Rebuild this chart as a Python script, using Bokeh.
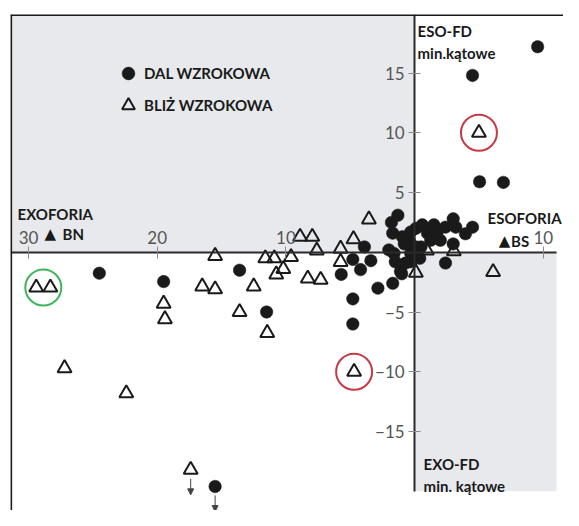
from bokeh.plotting import figure
from bokeh.models import (Range1d, FixedTicker, BoxAnnotation, Span, Label, Legend,
                          LegendItem, Arrow, NormalHead, ColumnDataSource)
from bokeh.embed import file_html
from bokeh.resources import INLINE

# ---- data (x < 0: exophoria, x > 0: esophoria; y: fixation disparity, min. kątowe) ----
DAL_X = [9.56, 4.5, 5.05, 6.9,
         0.1, 0.6, 1.5, 1.0, 1.25, 2.0, 2.4, 3.0, 3.2, 3.95, 4.5, 3.0, 2.4, 0.5, 1.75,
         -1.3, -1.8, -1.7, -1.6, -1.5, -1.1, -0.8, -0.4, -0.3, -0.3, 0.1, -0.7, -1.0,
         -2.0, -0.95, -0.3, 0.4,
         -3.9, -4.8, -3.4, -4.2, -5.7, -1.7, -2.85, -4.8, -4.8,
         -24.5, -19.5, -13.6, -11.5, -15.5]
DAL_Y = [17.2, 14.8, 5.9, 5.85,
         2.0, 2.3, 2.3, 1.6, 1.0, 1.0, 2.1, 2.8, 2.1, 1.55, 2.1, 0.7, -0.9, 0.45, 1.7,
         3.1, 2.5, 1.6, -0.1, -0.8, -1.6, 0.7, 1.0, -0.1, -0.8, 0.45, -0.9, -1.8,
         0.2, 1.3, 1.7, -0.5,
         0.45, -0.6, -0.7, -1.45, -1.85, -2.6, -3.0, -3.9, -6.0,
         -1.75, -2.45, -1.5, -5.0, -19.6]

BLIZ_X = [5.0, -4.7, -29.4, -28.3, -27.2, -22.4, -19.5, -19.4, -16.5, -15.5,
          -12.5, -13.6, -11.45, -17.4, -15.5, -11.6, -10.9, -9.6, -10.2, -10.75,
          -8.9, -7.95, -7.6, -5.75, -5.75, -4.75, -3.55, -8.3, -7.3,
          0.95, 3.05, 0.1, 6.1]
BLIZ_Y = [10.0, -10.0, -2.95, -2.95, -9.7, -11.8, -4.3, -5.6, -2.85, -3.1,
          -2.85, -5.0, -6.75, -18.2, -0.3, -0.5, -0.5, -0.4, -1.4, -1.85,
          1.3, 1.3, 0.15, 0.3, -0.8, 1.1, 2.75, -2.2, -2.3,
          0.15, 0.1, -1.7, -1.65]

# highlighted points
RED_X = [5.0, -4.7]
RED_Y = [10.0, -10.0]
GREEN_X = [-28.85]
GREEN_Y = [-2.95]

# points beyond the scale (arrows downwards)
ARROW_X = [-17.4, -15.5]
ARROW_Y = [-18.2, -19.6]

X_TICKS = [-30, -20, -10, 10]
X_TICK_LABELS = ["30", "20", "10", "10"]
Y_TICKS = [-15, -10, -5, 5, 10, 15]
Y_TICK_LABELS = ["\u221215", "\u221210", "\u22125", "5", "10", "15"]

X_MIN, X_MAX = -31.4, 11.57
Y_MIN, Y_MAX = -21.61, 19.9
X_AXIS_END = 11.03
Y_AXIS_START = -20.0

GRAY = "#e7e9ec"
INK = "#1a1a1a"

p = figure(width=563, height=510, x_range=Range1d(X_MIN, X_MAX), y_range=Range1d(Y_MIN, Y_MAX),
           output_backend="svg", toolbar_location=None, x_axis_location="above",
           min_border_left=10, min_border_top=14, min_border_right=0, min_border_bottom=0,
           outline_line_color=None, background_fill_color="white", border_fill_color="white")
p.grid.visible = False

# shaded quadrants
p.add_layout(BoxAnnotation(left=X_MIN, right=0, bottom=0, top=Y_MAX, fill_color=GRAY,
                           fill_alpha=1, line_color=None, level="underlay"))
p.add_layout(BoxAnnotation(left=0, right=X_AXIS_END, bottom=Y_AXIS_START, top=0, fill_color=GRAY,
                           fill_alpha=1, line_color=None, level="underlay"))

# frame (top and left only)
p.add_layout(Span(location=Y_MAX - 0.04, dimension="width", line_color=INK, line_width=2))
p.add_layout(Span(location=X_MIN + 0.05, dimension="height", line_color=INK, line_width=2))

# axes crossing at origin
xa = p.xaxis[0]
xa.fixed_location = 0
xa.bounds = (X_MIN, X_AXIS_END)
xa.ticker = FixedTicker(ticks=X_TICKS)
xa.major_label_overrides = {t: l for t, l in zip(X_TICKS, X_TICK_LABELS)}
ya = p.yaxis[0]
ya.fixed_location = 0
ya.bounds = (Y_AXIS_START, Y_MAX)
ya.ticker = FixedTicker(ticks=Y_TICKS)
ya.major_label_overrides = {t: l for t, l in zip(Y_TICKS, Y_TICK_LABELS)}
for ax in (xa, ya):
    ax.axis_line_color = "#2a2a2a"
    ax.axis_line_width = 2
    ax.major_tick_line_color = "#8a8a8a"
    ax.major_tick_line_width = 1
    ax.major_tick_in = 6
    ax.major_tick_out = 6
    ax.minor_tick_line_color = None
    ax.major_label_text_font = "Lato"
    ax.major_label_text_font_size = "17px"
    ax.major_label_text_color = "#555555"
xa.major_label_standoff = 2
ya.major_label_standoff = 4

# data
circ = p.scatter(DAL_X, DAL_Y, marker="circle", size=12.5, fill_color=INK, line_color=INK, line_width=0.5)
tri = p.scatter(BLIZ_X, BLIZ_Y, marker="triangle", size=14, fill_color=None, line_color=INK, line_width=2)

# highlight rings
p.scatter(RED_X, RED_Y, marker="circle", size=36, fill_color=None, line_color="#c73a45", line_width=2)
p.scatter(GREEN_X, GREEN_Y, marker="circle", size=36, fill_color=None, line_color="#3fb45c", line_width=2)

# arrows for off-scale points
asrc = ColumnDataSource(dict(x0=ARROW_X, y0=[y - 0.75 for y in ARROW_Y],
                             x1=ARROW_X, y1=[y - 2.1 for y in ARROW_Y]))
p.add_layout(Arrow(x_start="x0", y_start="y0", x_end="x1", y_end="y1", source=asrc,
                   line_color="#444444", line_width=1,
                   end=NormalHead(size=6, fill_color="#444444", line_color="#444444")))

# legend
legend = Legend(items=[LegendItem(label="DAL WZROKOWA", renderers=[circ]),
                       LegendItem(label="BLIŻ WZROKOWA", renderers=[tri])],
                location=(102, 389), glyph_width=32, glyph_height=32, spacing=-4,
                padding=0, margin=0, label_standoff=0, border_line_color=None,
                background_fill_alpha=0, label_text_font="Lato", label_text_font_style="bold",
                label_text_font_size="15px", label_text_color=INK)
p.add_layout(legend)

def lab(x, y, text, font="Lato", size="15px"):
    p.add_layout(Label(x=x, y=y, text=text, text_font=font, text_font_style="bold",
                       text_font_size=size, text_color=INK, text_baseline="alphabetic"))

lab(-30.85, 3.2, "EXOFORIA")
lab(-28.75, 1.55, "\u25B2", font="DejaVu Sans", size="15px")
lab(-27.35, 1.55, "BN")
lab(5.67, 2.85, "ESOFORIA")
lab(6.53, 0.95, "\u25B2", font="DejaVu Sans", size="15px")
lab(7.5, 0.95, "BS")
lab(0.23, 18.5, "ESO-FD")
lab(0.23, 16.7, "min.kątowe")
lab(0.7, -17.74, "EXO-FD")
lab(0.7, -19.6, "min. kątowe")

open("out.html", "w").write(file_html(p, INLINE))
